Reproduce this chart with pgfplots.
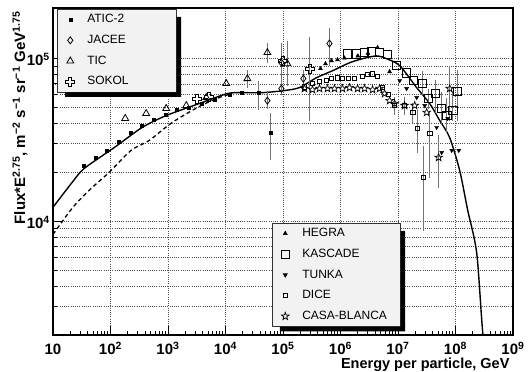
\documentclass[border=0pt]{standalone}
\usepackage{pgfplots}
\pgfplotsset{compat=1.18}
\usepackage{fontspec}
\setmainfont{Liberation Sans}

\pgfdeclareplotmark{ocross}{%
  \pgfpathmoveto{\pgfpoint{-0.33\pgfplotmarksize}{\pgfplotmarksize}}%
  \pgfpathlineto{\pgfpoint{0.33\pgfplotmarksize}{\pgfplotmarksize}}%
  \pgfpathlineto{\pgfpoint{0.33\pgfplotmarksize}{0.33\pgfplotmarksize}}%
  \pgfpathlineto{\pgfpoint{\pgfplotmarksize}{0.33\pgfplotmarksize}}%
  \pgfpathlineto{\pgfpoint{\pgfplotmarksize}{-0.33\pgfplotmarksize}}%
  \pgfpathlineto{\pgfpoint{0.33\pgfplotmarksize}{-0.33\pgfplotmarksize}}%
  \pgfpathlineto{\pgfpoint{0.33\pgfplotmarksize}{-\pgfplotmarksize}}%
  \pgfpathlineto{\pgfpoint{-0.33\pgfplotmarksize}{-\pgfplotmarksize}}%
  \pgfpathlineto{\pgfpoint{-0.33\pgfplotmarksize}{-0.33\pgfplotmarksize}}%
  \pgfpathlineto{\pgfpoint{-\pgfplotmarksize}{-0.33\pgfplotmarksize}}%
  \pgfpathlineto{\pgfpoint{-\pgfplotmarksize}{0.33\pgfplotmarksize}}%
  \pgfpathlineto{\pgfpoint{-0.33\pgfplotmarksize}{0.33\pgfplotmarksize}}%
  \pgfpathclose\pgfusepathqstroke}
\pgfdeclareplotmark{ostar}{%
  \pgfpathmoveto{\pgfpoint{0pt}{\pgfplotmarksize}}%
  \pgfpathlineto{\pgfpoint{0.235\pgfplotmarksize}{0.324\pgfplotmarksize}}%
  \pgfpathlineto{\pgfpoint{0.951\pgfplotmarksize}{0.309\pgfplotmarksize}}%
  \pgfpathlineto{\pgfpoint{0.380\pgfplotmarksize}{-0.124\pgfplotmarksize}}%
  \pgfpathlineto{\pgfpoint{0.588\pgfplotmarksize}{-0.809\pgfplotmarksize}}%
  \pgfpathlineto{\pgfpoint{0pt}{-0.4\pgfplotmarksize}}%
  \pgfpathlineto{\pgfpoint{-0.588\pgfplotmarksize}{-0.809\pgfplotmarksize}}%
  \pgfpathlineto{\pgfpoint{-0.380\pgfplotmarksize}{-0.124\pgfplotmarksize}}%
  \pgfpathlineto{\pgfpoint{-0.951\pgfplotmarksize}{0.309\pgfplotmarksize}}%
  \pgfpathlineto{\pgfpoint{-0.235\pgfplotmarksize}{0.324\pgfplotmarksize}}%
  \pgfpathclose\pgfusepathqstroke}

\pgfplotsset{
  rootlegA/.style={
    legend cell align=left,
    legend image code/.code={\path[draw=none, fill=none] (-13pt,-10.35pt) rectangle (17pt,10.35pt); \draw[##1] plot coordinates {(0pt,0pt)};},
    legend style={fill=black!5, draw=black!80, line width=0.6pt, inner sep=0pt, row sep=0pt, column sep=0pt,
      font=\fontsize{12}{14}\selectfont,
      nodes={inner xsep=0pt, inner ysep=0pt, text height=9pt, text depth=2.5pt, anchor=west, draw=none, fill=none}},
  },
  ebarA/.style={error bars/.cd, y dir=both, y explicit,
    error bar style={black!55, line width=0.9pt},
    error mark options={black!55, line width=0.9pt, mark size=2.5pt}},
}

\begin{document}
\begin{tikzpicture}
\useasboundingbox (0,0) rectangle (531pt,372pt);
\begin{axis}[
  at={(53pt,37pt)}, anchor=south west,
  scale only axis, width=460pt, height=327pt,
  xmode=log, ymode=log,
  xmin=10, xmax=1e9, ymin=2000, ymax=2.05e5,
  rootlegA,
  legend style={at={(0.0087,0.997)}, anchor=north west, name=legA, nodes={text width=89pt}},
  axis line style={line width=1.3pt},
  xtick={10,100,1000,10000,100000,1000000,10000000,100000000,1000000000},
  xticklabels={10,10\textsuperscript{2},10\textsuperscript{3},10\textsuperscript{4},10\textsuperscript{5},10\textsuperscript{6},10\textsuperscript{7},10\textsuperscript{8},10\textsuperscript{9}},
  ytick={10000,100000},
  yticklabels={10\textsuperscript{4},10\textsuperscript{5}},
  minor xtick={20,30,40,50,60,70,80,90,200,300,400,500,600,700,800,900,2000,3000,4000,5000,6000,7000,8000,9000,2e4,3e4,4e4,5e4,6e4,7e4,8e4,9e4,2e5,3e5,4e5,5e5,6e5,7e5,8e5,9e5,2e6,3e6,4e6,5e6,6e6,7e6,8e6,9e6,2e7,3e7,4e7,5e7,6e7,7e7,8e7,9e7,2e8,3e8,4e8,5e8,6e8,7e8,8e8,9e8},
  minor ytick={3000,4000,5000,6000,7000,8000,9000,2e4,3e4,4e4,5e4,6e4,7e4,8e4,9e4},
  xtick pos=left, ytick pos=left,
  major tick length=9pt, minor tick length=4.5pt,
  tick style={black, line width=0.9pt},
  xmajorgrids, ymajorgrids, yminorgrids,
  major grid style={black!70, line width=0.7pt, dash pattern=on 0.9pt off 1.3pt},
  minor grid style={black!70, line width=0.7pt, dash pattern=on 0.9pt off 1.3pt},
  xticklabel style={font=\bfseries\fontsize{15}{18}\selectfont, anchor=base, yshift=-19.5pt, inner sep=0pt},
  yticklabel style={font=\bfseries\fontsize{15}{18}\selectfont, anchor=base east, yshift=-7pt, xshift=-3pt, inner sep=0pt},
]
% model curves
\addplot[black, line width=1.4pt, smooth, tension=0.45, forget plot] coordinates {
(10,12200) (21.4,17300) (34.7,21100) (116,28400) (356,37800) (931,44700) (3500,53000) (10700,61000) (18800,61800) (43700,61800) (106000,63700) (193000,66400) (382000,76400) (726000,84300) (1.44e6,94400) (2.42e6,100000) (4.24e6,104000) (6.32e6,100000) (1.07e7,90600) (2.11e7,66400) (3.56e7,53000) (5.31e7,41700) (7.93e7,32700) (1.18e8,20600) (1.63e8,11700) (2.34e8,6370) (3.0e8,2000) (3.9e8,1000)};
\addplot[black, line width=1.3pt, dash pattern=on 4pt off 3pt, smooth, forget plot] coordinates {
(10,8300) (21.4,12000) (42.4,15500) (94.6,20000) (228,27300) (470,31400) (1180,40500) (3500,50800) (7800,57700) (13000,61000)};
% ATIC-2
\addplot[only marks, mark=square*, mark size=1.5pt, black] coordinates {
(34.7,22000) (56,24700) (87,27300) (141,31000) (228,35200) (355,38800) (575,42300) (894,45300) (1445,48600) (2250,50000) (3790,53000) (6380,56000) (11600,60100) (18800,61900)};
\addlegendentry{ATIC-2}
\addplot[only marks, mark=square*, mark size=1.5pt, black, forget plot, ebarA] coordinates {
(37200,61900) += (0,8400) -= (0,11900)
(60300,35200) += (0,9500) -= (0,10500)};
% JACEE
\addplot[only marks, mark=diamond, mark size=3.5pt, black, line width=0.8pt, ebarA] coordinates {
(53500,55200) += (0,5800) -= (0,4400)
(93800,65500) += (0,7800) -= (0,3700)
(93800,94400) += (0,25600) -= (0,24100)
(226000,75400) += (0,6600) -= (0,9900)
(643000,124000) += (0,25000) -= (0,30900)};
\addlegendentry{JACEE}
% TIC
\addplot[only marks, mark=triangle, mark size=4pt, black, line width=0.8pt] coordinates {
(180,42900) (417,46000) (931,49400) (2080,51500) (4630,57700) (10300,70300)};
\addlegendentry{TIC}
\addplot[only marks, mark=triangle, mark size=4pt, black, line width=0.8pt, forget plot, ebarA] coordinates {
(24000,75400) += (0,6600) -= (0,7000)
(53500,109000) += (0,11000) -= (0,11800)
(119000,93100) += (0,30900) -= (0,22800)};
% SOKOL
\addplot[only marks, mark=ocross, mark size=4.5pt, black, line width=0.8pt] coordinates {
(3230,56900) (5230,58500) (97700,97200)};
\addlegendentry{SOKOL}
\addplot[only marks, mark=ocross, mark size=4.5pt, black, line width=0.8pt, forget plot, ebarA] coordinates {
(288000,86900) += (0,44100) -= (0,44000)};
\end{axis}

\begin{axis}[
  at={(53pt,37pt)}, anchor=south west,
  scale only axis, width=460pt, height=327pt,
  xmode=log, ymode=log,
  xmin=10, xmax=1e9, ymin=2000, ymax=2.05e5,
  hide axis, rootlegA,
  legend style={at={(0.476,0.0245)}, anchor=south west, name=legB, nodes={text width=98pt}}]
% HEGRA
\addplot[only marks, mark=triangle*, mark size=2.3pt, black] coordinates {
(449000,86900) (548000,93100) (697000,97200) (887000,98600) (1.17e6,101000) (2.0e6,104000) (3.0e6,108000) (4.41e6,117000) (7.14e6,83200)};
\addlegendentry{HEGRA}
% KASCADE
\addplot[only marks, mark=square, mark size=4.2pt, black, line width=0.8pt] coordinates {
(1.33e6,107000) (1.90e6,107000) (2.62e6,109000) (3.47e6,110000) (4.78e6,109000) (6.59e6,106000) (9.46e6,90600) (1.41e7,82000) (1.87e7,73300)};
\addlegendentry{KASCADE}
\addplot[only marks, mark=square, mark size=4.2pt, black, line width=0.8pt, forget plot, ebarA] coordinates {
(2.68e7,70300) += (0,10600) -= (0,8500)
(3.41e7,56900) += (0,6000) -= (0,6000)
(4.52e7,61000) += (0,10300) -= (0,13000)
(5.75e7,49400) += (0,10700) -= (0,8900)
(7.03e7,44700) += (0,10500) -= (0,8600)
(8.94e7,48000) += (0,13000) -= (0,5100)
(1.09e8,62800) += (0,19200) -= (0,19900)};
% TUNKA
\addplot[only marks, mark=triangle*, mark options={rotate=180}, mark size=2.3pt, black] coordinates {
(1.07e7,73300) (1.41e7,65500) (2.11e7,57700) (2.91e7,51500) (4.70e7,37800) (5.75e7,26500) (7.31e7,42900) (8.59e7,27300) (1.14e8,27300)};
\addlegendentry{TUNKA}
% DICE
\addplot[only marks, mark=square, mark size=2.2pt, black, line width=0.7pt] coordinates {
(236000,67300) (325000,70300) (431000,72300) (571000,73300) (697000,75400) (887000,76400) (1.08e6,75400) (1.38e6,75400) (1.75e6,75400) (2.42e6,77600) (2.95e6,79800) (3.61e6,80900) (4.41e6,77600) (5.39e6,66400) (6.86e6,60100)};
\addlegendentry{DICE}
\addplot[only marks, mark=square, mark size=2.2pt, black, line width=0.7pt, forget plot, ebarA] coordinates {
(8.73e6,51500) += (0,5000) -= (0,5000)
(1.30e7,51500) += (0,5000) -= (0,5000)
(1.80e7,46700) += (0,5000) -= (0,5000)
(2.19e7,37200) += (0,9500) -= (0,9900)
(2.79e7,18600) += (0,9500) -= (0,9540)
(3.56e7,34700) += (0,11300) -= (0,15600)};
% CASA-BLANCA
\addplot[only marks, mark=ostar, mark size=4pt, black, line width=0.7pt] coordinates {
(236000,65500) (325000,64500) (431000,65500) (593000,65500) (785000,65500) (1.08e6,65500) (1.44e6,66400) (1.98e6,65500) (2.62e6,65500) (3.61e6,64500) (4.78e6,65500) (5.84e6,61000) (7.14e6,55200) (8.73e6,53000) (1.30e7,51500) (1.95e7,51500) (3.15e7,46700)};
\addlegendentry{CASA-BLANCA}
\addplot[only marks, mark=ostar, mark size=4pt, black, line width=0.7pt, forget plot, ebarA] coordinates {
(5.09e7,24700) += (0,8000) -= (0,8100)
(7.93e7,65500) += (0,21400) -= (0,22600)};
\end{axis}

% legend shadows (L-shaped, outside the boxes)
\foreach \L in {legA,legB}{
  \fill[black] ([xshift=8pt]\L.south west) -- ([xshift=8pt,yshift=-4.5pt]\L.south west)
    -- ([xshift=4.5pt,yshift=-4.5pt]\L.south east) -- ([xshift=4.5pt,yshift=-8pt]\L.north east)
    -- ([yshift=-8pt]\L.north east) -- (\L.south east) -- cycle;
}

\node[rotate=90, anchor=base east, font=\bfseries\fontsize{15}{18}\selectfont] at (25pt,364pt)
  {Flux*E\textsuperscript{2.75}, m\textsuperscript{−2} s\textsuperscript{−1} sr\textsuperscript{−1} GeV\textsuperscript{1.75}};
\node[anchor=base east, font=\bfseries\fontsize{14.5}{17}\selectfont] at (513pt,3pt) {Energy per particle, GeV};
\end{tikzpicture}
\end{document}
